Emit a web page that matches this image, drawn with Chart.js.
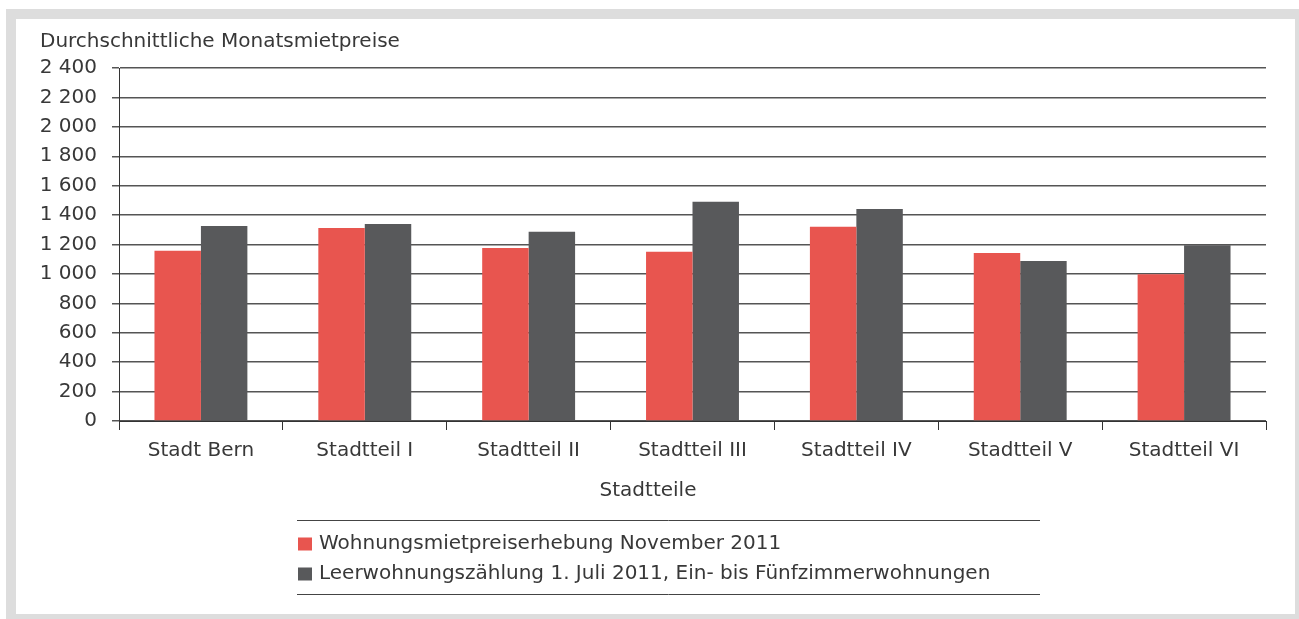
<!DOCTYPE html>
<html>
<head>
<meta charset="utf-8">
<script src="https://cdn.jsdelivr.net/npm/chart.js@4.4.1/dist/chart.umd.min.js"></script>
<style>
  html, body { margin:0; padding:0; background:#ffffff; width:1299px; height:619px; overflow:hidden; }
  #frame { position:absolute; left:6px; top:9px; width:1299px; height:615px; box-sizing:border-box; border:10px solid #dddddd; background:#ffffff; }
  #c { position:absolute; left:0; top:0; }
</style>
</head>
<body>
<div id="frame"></div>
<canvas id="c" width="1299" height="619"></canvas>
<script>
const categories = ["Stadt Bern", "Stadtteil I", "Stadtteil II", "Stadtteil III", "Stadtteil IV", "Stadtteil V", "Stadtteil VI"];
const seriesNames = ["Wohnungsmietpreiserhebung November 2011", "Leerwohnungszählung 1. Juli 2011, Ein- bis Fünfzimmerwohnungen"];
const mietpreiserhebung = [1157, 1313, 1177, 1150, 1320, 1143, 997];
const leerwohnungszaehlung = [1326, 1340, 1286, 1490, 1442, 1088, 1195];
const yTitle = "Durchschnittliche Monatsmietpreise";
const xTitle = "Stadtteile";
const yMin = 0, yMax = 2400, yStep = 200;

const FONT = '"DejaVu Sans", "Liberation Sans", sans-serif';
const TEXT = '#383838';
const RED = '#e8554f';
const DARK = '#58595b';

const extras = {
  id: 'extras',
  afterDraw(chart) {
    const ctx = chart.ctx;
    ctx.save();
    ctx.fillStyle = TEXT;
    ctx.font = '20px ' + FONT;
    ctx.textBaseline = 'middle';
    ctx.textAlign = 'left';
    ctx.fillText(yTitle, 40, 41.5);
    ctx.textAlign = 'center';
    ctx.fillText(xTitle, 648, 491);
    // legend
    ctx.strokeStyle = '#444444';
    ctx.lineWidth = 1;
    ctx.beginPath();
    ctx.moveTo(297, 520.5); ctx.lineTo(1040, 520.5);
    ctx.moveTo(297, 594.5); ctx.lineTo(1040, 594.5);
    ctx.stroke();
    const ys = [544, 574];
    chart.data.datasets.forEach((ds, i) => {
      ctx.fillStyle = ds.backgroundColor;
      ctx.fillRect(298, ys[i] - 6.5, 14, 13);
      ctx.fillStyle = TEXT;
      ctx.textAlign = 'left';
      ctx.fillText(ds.label, 319, ys[i]);
    });
    ctx.restore();
  }
};

function fmt(v) {
  return String(v).replace(/\B(?=(\d{3})+(?!\d))/g, ' ');
}

new Chart(document.getElementById('c'), {
  type: 'bar',
  data: {
    labels: categories,
    datasets: [
      { label: seriesNames[0], data: mietpreiserhebung, backgroundColor: RED },
      { label: seriesNames[1], data: leerwohnungszaehlung, backgroundColor: DARK }
    ]
  },
  options: {
    responsive: false,
    animation: false,
    devicePixelRatio: 1,
    categoryPercentage: 0.567,
    barPercentage: 1.0,
    layout: { padding: { left: 0, right: 33, top: 68, bottom: 0 } },
    plugins: { legend: { display: false }, tooltip: { enabled: false } },
    scales: {
      x: {
        afterFit(scale) { scale.height = 619 - 421; },
        grid: { display: true, drawOnChartArea: false, drawTicks: true, tickLength: 9, color: '#333333', offset: true },
        border: { display: true, color: '#333333', width: 1 },
        ticks: { color: TEXT, font: { family: FONT, size: 20 }, padding: 9, maxRotation: 0 }
      },
      y: {
        min: yMin, max: yMax,
        afterFit(scale) { scale.width = 119; },
        grid: { color: '#555555', lineWidth: 1.5, drawTicks: true, tickLength: 7 },
        border: { display: true, color: '#333333', width: 1 },
        ticks: { stepSize: yStep, color: TEXT, font: { family: FONT, size: 20 }, padding: 15, callback: (v) => fmt(v) }
      }
    }
  },
  plugins: [extras]
});
</script>
</body>
</html>
